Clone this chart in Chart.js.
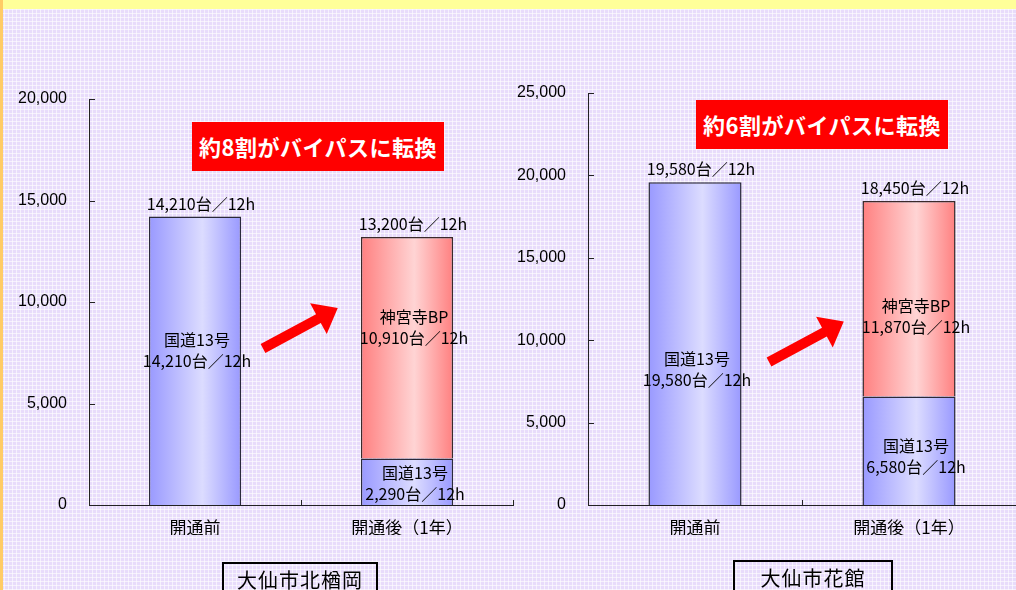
<!DOCTYPE html>
<html lang="ja">
<head>
<meta charset="utf-8">
<script src="https://cdn.jsdelivr.net/npm/chart.js@4.4.1/dist/chart.umd.min.js"></script>
<style>
  html, body { margin: 0; padding: 0; }
  body {
    width: 1016px; height: 590px; overflow: hidden; position: relative;
    background-color: #e8dcfb;
    background-image:
      repeating-linear-gradient(90deg, rgba(255,255,255,0.6) 0 1px, transparent 1px 4px),
      repeating-linear-gradient(0deg, rgba(255,255,255,0.6) 0 1px, transparent 1px 4px);
    font-family: "Noto Sans CJK JP", sans-serif;
  }
  .topband { position: absolute; left: 0; top: 0; width: 1016px; height: 9px; background: #ffff99; }
  .sideband { position: absolute; left: 0; top: 0; width: 3px; height: 590px; background: #ffcc66; }
  canvas { position: absolute; top: 0; }
  #chart1 { left: 0; }
  #chart2 { left: 500px; }
  .callout {
    position: absolute; background: #ff0000; color: #fff; font-weight: bold;
    font-size: 22px; line-height: 49px; height: 49px; text-align: center; width: 252px;
    letter-spacing: 0.5px;
  }
  .place {
    position: absolute; border: 2px solid #000; height: 40px; text-align: center;
    font-size: 20px; line-height: 32px; color: #000; box-sizing: border-box; letter-spacing: 1px;
  }
  svg { position: absolute; left: 0; top: 0; }
</style>
</head>
<body>
<div class="topband"></div>
<div class="sideband"></div>
<canvas id="chart1" width="520" height="590"></canvas>
<canvas id="chart2" width="516" height="590"></canvas>

<div class="callout" style="left:192px; top:122px;">約8割がバイパスに転換</div>
<div class="callout" style="left:696px; top:100px;">約6割がバイパスに転換</div>

<div class="place" style="left:222px; top:562px; width:156px;">大仙市北楢岡</div>
<div class="place" style="left:733px; top:560px; width:160px;">大仙市花館</div>

<svg width="1016" height="590">
  <g transform="translate(263,348.5) rotate(-28.4)">
    <polygon points="0,-5 63,-5 63,-17.5 85,0 63,17.5 63,5 0,5" fill="#ff0000"/>
  </g>
  <g transform="translate(769,362) rotate(-28.4)">
    <polygon points="0,-5 63,-5 63,-17.5 85,0 63,17.5 63,5 0,5" fill="#ff0000"/>
  </g>
</svg>

<script>
// 区分
const categories = ['開通前', '開通後（1年）'];
const seriesNames = ['国道13号', '神宮寺BP'];

// 大仙市北楢岡 (台/12h)
const kitanaraokaRoute13 = [14210, 2290];
const kitanaraokaBypass = [null, 10910];

// 大仙市花館 (台/12h)
const hanadateRoute13 = [19580, 6580];
const hanadateBypass = [null, 11870];

// 目盛
const kitanaraokaTicks = [0, 5000, 10000, 15000, 20000];
const hanadateTicks = [0, 5000, 10000, 15000, 20000, 25000];

const BAR_PCT = 0.435;
const fmt = v => v.toLocaleString('en-US') + '台／12h';

// 棒の横グラデーション
function gradFill(edge, light) {
  return (ctx) => {
    const chart = ctx.chart;
    const xs = chart.scales.x;
    if (!chart.chartArea || !xs || ctx.dataIndex === undefined) return edge;
    const cx = xs.getPixelForValue(ctx.dataIndex);
    const w = (xs.width / categories.length) * BAR_PCT;
    const g = chart.ctx.createLinearGradient(cx - w / 2, 0, cx + w / 2, 0);
    g.addColorStop(0, edge);
    g.addColorStop(0.58, light);
    g.addColorStop(1, edge);
    return g;
  };
}

// 軸の内向き目盛
const innerTicks = {
  id: 'innerTicks',
  afterDraw(chart) {
    const { ctx, chartArea, scales } = chart;
    ctx.save();
    ctx.strokeStyle = '#222';
    ctx.lineWidth = 1;
    ctx.beginPath();
    scales.y.ticks.forEach(t => {
      const y = Math.round(scales.y.getPixelForValue(t.value)) + 0.5;
      ctx.moveTo(chartArea.left, y);
      ctx.lineTo(chartArea.left + 6, y);
    });
    for (let i = 0; i <= categories.length; i++) {
      const x = Math.round(chartArea.left + (chartArea.right - chartArea.left) * i / categories.length) + 0.5;
      ctx.moveTo(x, chartArea.bottom);
      ctx.lineTo(x, chartArea.bottom - 5);
    }
    ctx.stroke();
    ctx.restore();
  }
};

// データラベル
const barLabels = {
  id: 'barLabels',
  afterDatasetsDraw(chart, args, opts) {
    const { ctx } = chart;
    ctx.save();
    ctx.fillStyle = '#000';
    ctx.font = '16px "Noto Sans CJK JP", sans-serif';
    ctx.textAlign = 'center';
    ctx.textBaseline = 'middle';
    opts.items.forEach(it => {
      const ds = chart.data.datasets;
      let el = chart.getDatasetMeta(it.ds).data[it.i];
      if (it.top) {
        const topDs = ds[1].data[it.i] == null ? 0 : 1;
        el = chart.getDatasetMeta(topDs).data[it.i];
        const total = ds.reduce((s, d) => s + (d.data[it.i] || 0), 0);
        ctx.fillText(fmt(total), el.x + 6, el.y - 13);
        return;
      }
      const val = ds[it.ds].data[it.i];
      const lines = [seriesNames[it.ds], fmt(val)];
      const cy = (el.y + el.base) / 2 + it.dy;
      ctx.fillText(lines[0], el.x + it.dx, cy - 10.5);
      ctx.fillText(lines[1], el.x + it.dx, cy + 10.5);
    });
    ctx.restore();
  }
};

function makeChart(id, route13, bypass, ticks, yWidth, pad, labelItems) {
  return new Chart(document.getElementById(id).getContext('2d'), {
    type: 'bar',
    data: {
      labels: categories,
      datasets: [
        {
          label: seriesNames[0],
          data: route13,
          backgroundColor: gradFill('#9999ff', '#dcdcff'),
          borderColor: '#2a2a3a',
          borderWidth: 1.5,
          inflateAmount: 0,
          barPercentage: BAR_PCT,
          categoryPercentage: 1,
        },
        {
          label: seriesNames[1],
          data: bypass,
          backgroundColor: gradFill('#ff8080', '#ffd4d4'),
          borderColor: '#3a2a2a',
          borderWidth: 1.5,
          inflateAmount: 0,
          barPercentage: BAR_PCT,
          categoryPercentage: 1,
        },
      ],
    },
    options: {
      responsive: false,
      animation: false,
      layout: { padding: pad },
      plugins: {
        legend: { display: false },
        tooltip: { enabled: false },
        barLabels: { items: labelItems },
      },
      scales: {
        x: {
          stacked: true,
          grid: { display: false, drawTicks: false },
          border: { display: true, color: '#222', width: 1 },
          ticks: { color: '#000', padding: 12, font: { size: 17, family: '"Noto Sans CJK JP", sans-serif' } },
          afterFit: s => { s.height = 30; },
        },
        y: {
          stacked: true,
          min: ticks[0],
          max: ticks[ticks.length - 1],
          afterBuildTicks: s => { s.ticks = ticks.map(v => ({ value: v })); },
          grid: { display: false, drawTicks: false },
          border: { display: true, color: '#222', width: 1 },
          ticks: {
            color: '#000',
            padding: 22,
            font: { size: 16, family: '"Liberation Sans", Arial, sans-serif' },
            callback: v => v.toLocaleString('en-US'),
          },
          afterFit: s => { s.width = yWidth; },
        },
      },
    },
    plugins: [innerTicks, barLabels],
  });
}

makeChart('chart1', kitanaraokaRoute13, kitanaraokaBypass, kitanaraokaTicks, 89,
  { top: 99, bottom: 55, left: 0, right: 7 },
  [
    { top: true, i: 0 }, { top: true, i: 1 },
    { ds: 0, i: 0, dx: 2, dy: -10 },
    { ds: 1, i: 1, dx: 7, dy: -20 },
    { ds: 0, i: 1, dx: 8, dy: 2 },
  ]);

makeChart('chart2', hanadateRoute13, hanadateBypass, hanadateTicks, 88,
  { top: 93, bottom: 55, left: 0, right: 0 },
  [
    { top: true, i: 0 }, { top: true, i: 1 },
    { ds: 0, i: 0, dx: 2, dy: 26 },
    { ds: 1, i: 1, dx: 7, dy: 18 },
    { ds: 0, i: 1, dx: 7, dy: 6 },
  ]);
</script>
</body>
</html>
